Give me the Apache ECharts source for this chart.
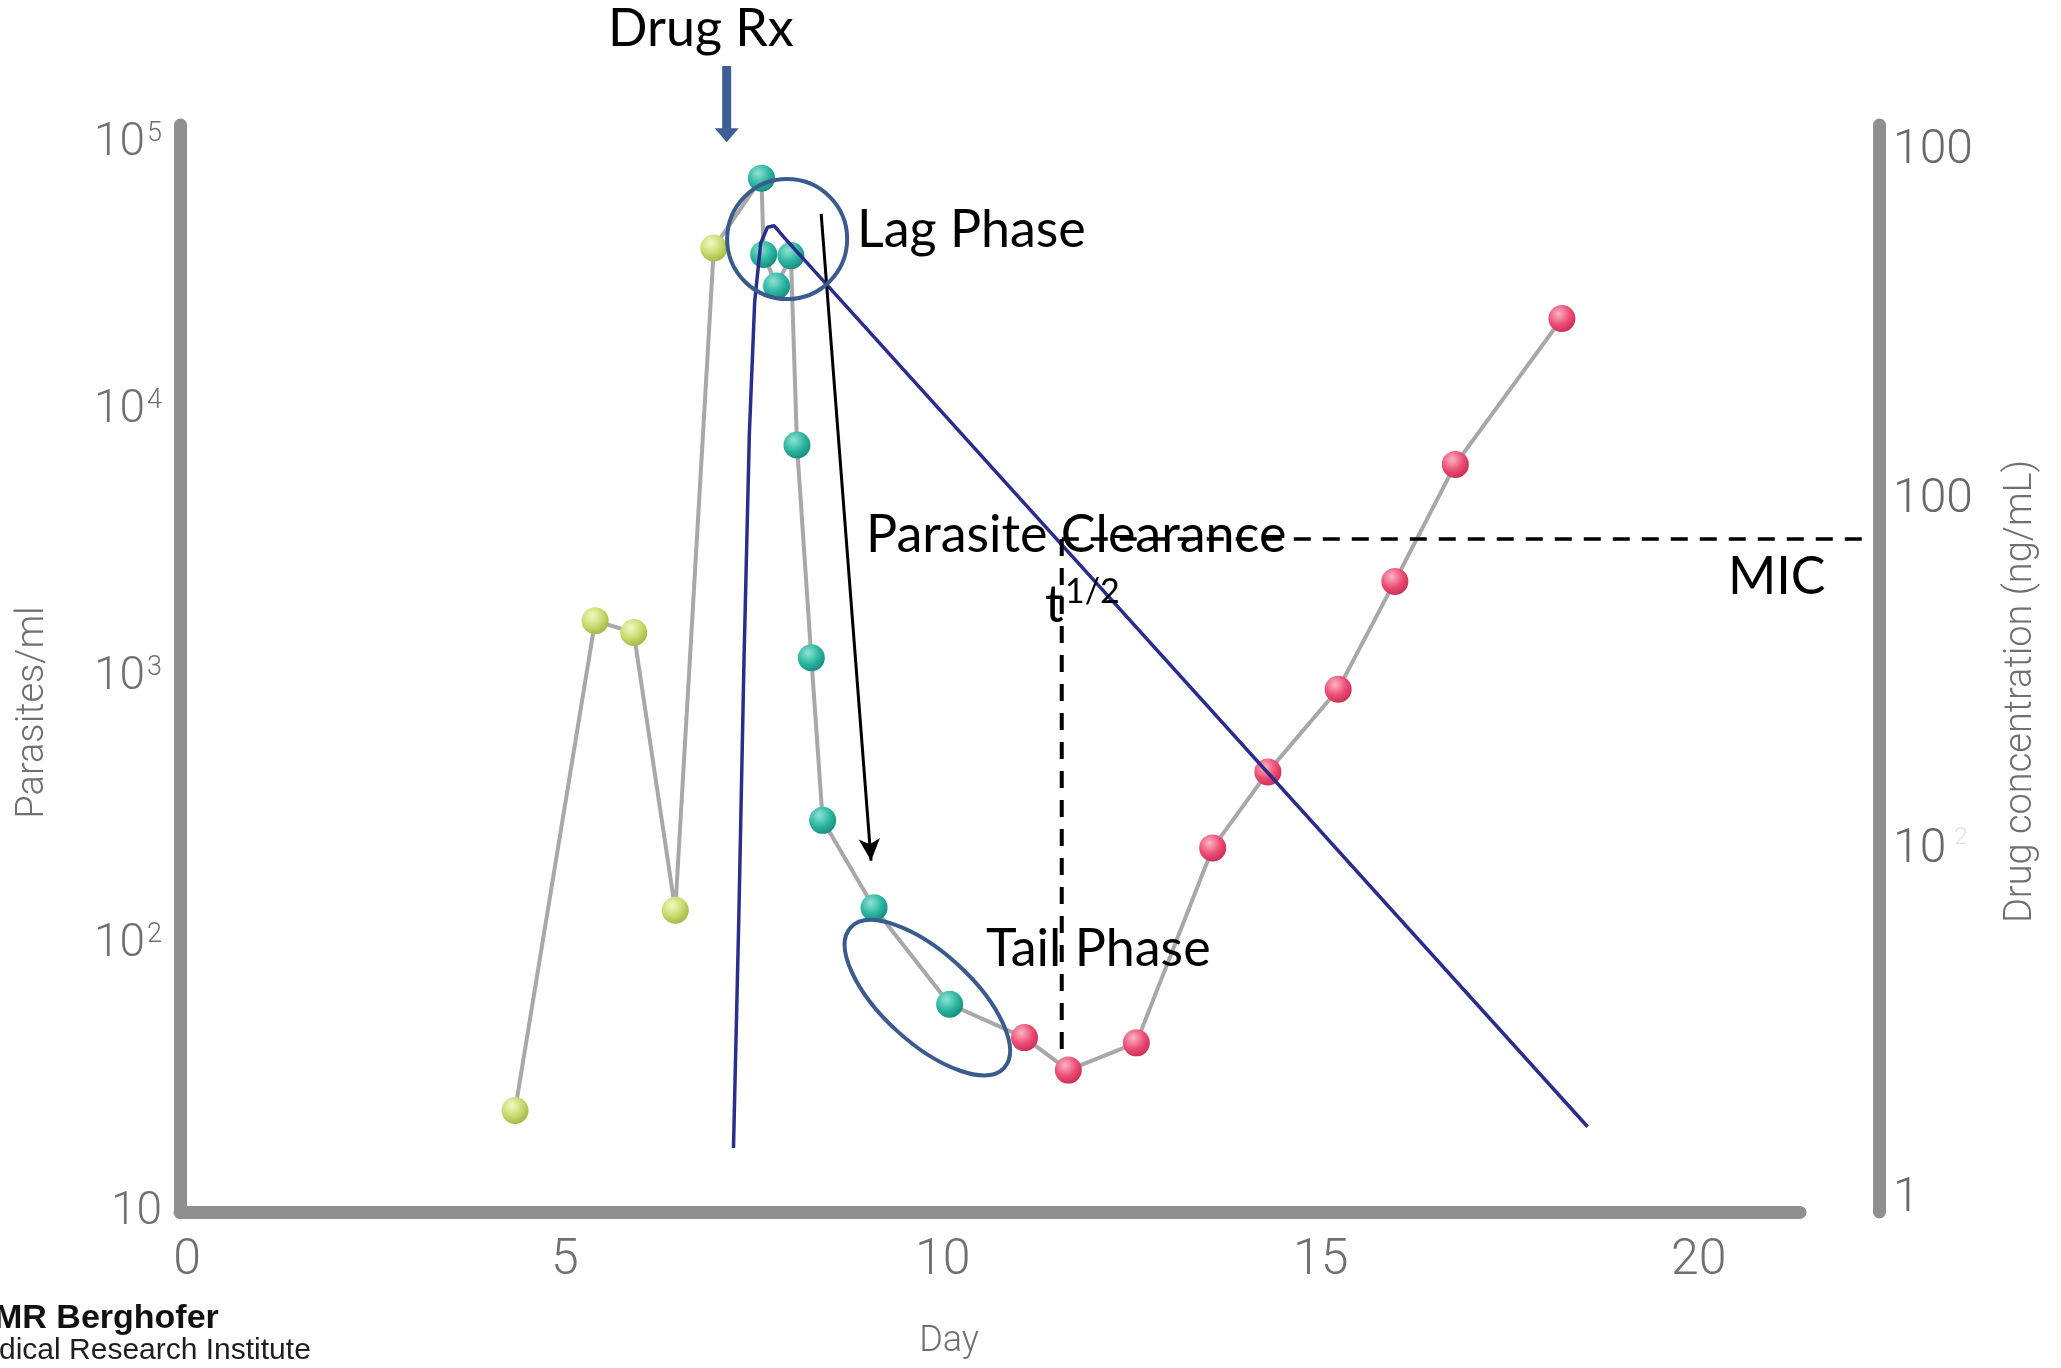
<!DOCTYPE html>
<html><head><meta charset="utf-8">
<script src="https://cdn.jsdelivr.net/npm/echarts@6/dist/echarts.min.js"></script>
<style>html,body{margin:0;padding:0;background:#fff;}#chart{width:2061px;height:1368px;}</style>
</head><body><div id="chart"></div>
<script>
// ---- data ----
const days      = [4.34, 5.40, 5.91, 6.46, 6.97, 7.60, 7.63, 7.80, 7.99, 8.07, 8.26, 8.41, 9.09, 10.09, 11.08, 11.66, 12.56, 13.57, 14.30, 15.23, 15.98, 16.78, 18.19];
const parasites = [24, 1640, 1480, 135, 40800, 74500, 38600, 29400, 38200, 7460, 1190, 293, 138, 60, 45, 34, 43, 231, 445, 908, 2300, 6310, 22200];
const phases    = ['pre','pre','pre','pre','pre','treat','treat','treat','treat','treat','treat','treat','treat','treat','recr','recr','recr','recr','recr','recr','recr','recr','recr'];
const drugDays  = [7.23, 7.30, 7.37, 7.44, 7.51, 7.59, 7.68, 7.77, 7.89, 18.53];
const drugConc  = [1.40, 6.3, 35.6, 155, 369, 545, 605, 611, 569, 1.61];
const mic = 77.5;
const halfLifeDay = 11.57;
const halfLifeLow = 2.5;
const micEndDay = 22.30;
const xTicks = [0, 5, 10, 15, 20];
const leftTickLabels  = {1:'10', 2:'10{s|2}', 3:'10{s|3}', 4:'10{s|4}', 5:'10{s|5}'};
const rightTickLabels = {0:'1', 1:'10{f|2}', 2:'100', 3:'100'};
const clearanceArrow = [[8.39, 54700], [9.05, 207]];

const phaseColors = {
  pre:   ['#f3f8c4', '#c8da6e', '#9cb23e'],
  treat: ['#8fe3d3', '#2bb6a1', '#17857a'],
  recr:  ['#fbb5c6', '#ec4d74', '#c42b52']
};
function ball(p) {
  const c = phaseColors[p];
  return {type:'radial', x:0.38, y:0.32, r:0.75,
    colorStops:[{offset:0,color:c[0]},{offset:0.55,color:c[1]},{offset:1,color:c[2]}]};
}
const parasiteData = days.map((d, i) => ({value:[d, parasites[i]], itemStyle:{color:ball(phases[i])}}));
const drugData = drugDays.map((d, i) => [d, drugConc[i]]);

const chart = echarts.init(document.getElementById('chart'), null, {renderer:'canvas', width:2061, height:1368});
const axisGray = '#8f8f8f';
const labelGray = '#707070';
const FONT = 'Roboto, "Liberation Sans", sans-serif';
const X_MIN = -0.0926, X_MAX = 21.34, X_MAX_WIDE = 22.34;
const R_MIN = 0.9179, R_MAX = 1187;

const option = {
  animation: false,
  backgroundColor: '#ffffff',
  grid: [
    {left:180, right:261, top:125, bottom:156, containLabel:false, outerBoundsMode:'none'},
    {left:180, right:185, top:125, bottom:156, containLabel:false, outerBoundsMode:'none'}
  ],
  xAxis: [{
    type:'value', gridIndex:0, min:X_MIN, max:X_MAX, splitNumber:4,
    name:'Day', nameLocation:'middle', nameGap:112,
    nameTextStyle:{fontFamily:FONT, fontWeight:300, fontSize:36, color:labelGray, padding:[0,82,0,0]},
    axisLine:{show:true, onZero:false, lineStyle:{color:axisGray, width:13}},
    axisTick:{show:false}, splitLine:{show:false},
    axisLabel:{margin:24, fontFamily:FONT, fontWeight:300, fontSize:50, color:labelGray,
      formatter: v => { const k = xTicks.find(t => Math.abs(t - v) < 1e-6); return k === undefined ? '' : String(k); }}
  }, {
    type:'value', gridIndex:1, min:X_MIN, max:X_MAX_WIDE, show:false
  }],
  yAxis: [{
    type:'log', logBase:10, gridIndex:0, min:10, max:117800,
    name:'Parasites/ml', nameLocation:'middle', nameGap:128,
    nameTextStyle:{fontFamily:FONT, fontWeight:300, fontSize:38, color:labelGray, padding:[0,88,0,0]},
    axisLine:{show:true, onZero:false, lineStyle:{color:axisGray, width:13}},
    axisTick:{show:false}, splitLine:{show:false},
    axisLabel:{margin:18, fontFamily:FONT, fontWeight:300, fontSize:46, color:labelGray,
      formatter: v => { const e = Math.log10(v); const r = Math.round(e); if (Math.abs(e - r) > 1e-6) return ''; return leftTickLabels[r] || ''; },
      rich:{s:{fontFamily:FONT, fontWeight:300, fontSize:27, color:labelGray, verticalAlign:'top', padding:[0,0,14,2]}}}
  }, {
    type:'log', logBase:10, gridIndex:0, min:R_MIN, max:R_MAX, position:'right', offset:79,
    name:'Drug concentration (ng/mL)', nameLocation:'middle', nameGap:123,
    nameTextStyle:{fontFamily:FONT, fontWeight:300, fontSize:38, color:labelGray, padding:[0,46,0,0]},
    axisLine:{show:true, onZero:false, lineStyle:{color:axisGray, width:13}},
    axisTick:{show:false}, splitLine:{show:false},
    axisLabel:{margin:14, fontFamily:FONT, fontWeight:300, fontSize:48, color:'#6c6868',
      formatter: v => { const e = Math.log10(v); const r = Math.round(e); if (Math.abs(e - r) > 1e-6) return ''; return rightTickLabels[r] || ''; },
      rich:{f:{fontFamily:FONT, fontWeight:300, fontSize:24, color:'#e2e2e2', verticalAlign:'top', padding:[0,0,14,8]}}}
  }, {
    type:'log', logBase:10, gridIndex:1, min:R_MIN, max:R_MAX, show:false
  }],
  series: [{
    name:'Parasites', type:'line', xAxisIndex:0, yAxisIndex:0, z:3,
    data: parasiteData, symbol:'circle', symbolSize:27,
    lineStyle:{color:'#a8a8a8', width:4}, itemStyle:{borderWidth:0},
    markLine:{silent:true, symbol:['none','arrow'], symbolSize:[16,22], label:{show:false},
      lineStyle:{color:'#000', width:3, type:'solid'},
      data:[[{coord:clearanceArrow[0]}, {coord:clearanceArrow[1]}]]}
  }, {
    name:'Drug', type:'line', xAxisIndex:0, yAxisIndex:1, z:4,
    data: drugData, showSymbol:false, smooth:false,
    lineStyle:{color:'#2b2d8c', width:3.5}
  }, {
    name:'MIC', type:'line', xAxisIndex:1, yAxisIndex:2, z:5,
    data:[[halfLifeDay, mic], [micEndDay, mic]], showSymbol:false,
    lineStyle:{color:'#000', width:3.5, type:[17,12]}
  }, {
    name:'t1/2', type:'line', xAxisIndex:1, yAxisIndex:2, z:5,
    data:[[halfLifeDay, mic], [halfLifeDay, halfLifeLow]], showSymbol:false,
    lineStyle:{color:'#000', width:4, type:[17,12]}
  }]
};
chart.setOption(option);

// ---- annotations placed through the chart's own scales ----
const P = (x, y) => chart.convertToPixel({xAxisIndex:0, yAxisIndex:0}, [x, y]);
const rxTop = P(7.14, 195900), rxTip = P(7.14, 101600);
const lag = P(7.94, 44060);
const tail = P(9.795, 63.5);
const blue = '#3a5b8e';
const TXT = 'Lato, "Open Sans", sans-serif';
const txt = (text, x, y, size) => ({type:'text', x:x, y:y, z:50,
  style:{text:text, fontFamily:TXT, fontSize:size, fill:'#000', align:'left', verticalAlign:'middle'}});
chart.setOption({graphic:[
  {type:'rect', z:40, shape:{x:rxTop[0]-4.5, y:rxTop[1], width:9, height:rxTip[1]-rxTop[1]-13}, style:{fill:'#3c6096'}},
  {type:'polygon', z:40, shape:{points:[[rxTip[0]-12, rxTip[1]-14],[rxTip[0]+12, rxTip[1]-14],[rxTip[0], rxTip[1]]]}, style:{fill:'#3c6096'}},
  {type:'circle', z:40, shape:{cx:lag[0], cy:lag[1], r:60}, style:{fill:'none', stroke:blue, lineWidth:4}},
  {type:'ellipse', z:40, x:tail[0], y:tail[1], rotation:-0.74, shape:{cx:0, cy:0, rx:104, ry:45}, style:{fill:'none', stroke:blue, lineWidth:4}},
  txt('Drug Rx', 608, 29, 52),
  txt('Lag Phase', 857, 230, 52),
  txt('Parasite Clearance', 866, 535, 52),
  txt('t', 1045, 605, 52),
  txt('1/2', 1065, 592, 34),
  txt('Tail Phase', 986, 949, 52),
  txt('MIC', 1728, 577, 52),
  {type:'text', x:-6, y:1319, z:50, style:{text:'MR Berghofer', fontFamily:'"Liberation Sans", Arial, sans-serif', fontWeight:'bold', fontSize:34, fill:'#111', align:'left', verticalAlign:'middle'}},
  {type:'text', x:-1, y:1351, z:50, style:{text:'dical Research Institute', fontFamily:'"Liberation Sans", Arial, sans-serif', fontSize:30, fill:'#1e1e1e', align:'left', verticalAlign:'middle'}}
]});
</script>
</body></html>
